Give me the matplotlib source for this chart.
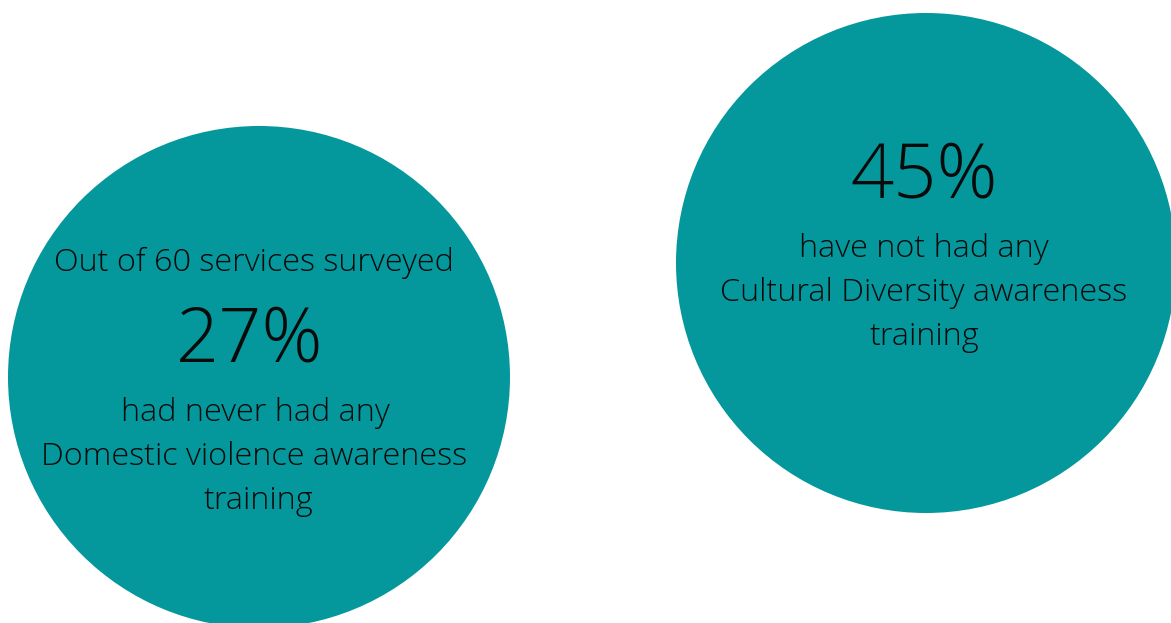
import matplotlib
matplotlib.use("Agg")
import matplotlib.pyplot as plt
from matplotlib.patches import Circle

# Data
percentages = ["27%", "45%"]
intro_lines = ["Out of 60 services surveyed", None]
caption_lines = [
    ["had never had any", "Domestic violence awareness", "training"],
    ["have not had any", "Cultural Diversity awareness", "training"],
]

# Layout (pixel coordinates, y downward)
W, H = 1171, 623
centers = [(259, 377), (926, 263)]
radii = [251, 250]
intro_x = [254, None]
pct_x = [250, 924]
caption_x = [[255, 254, 259], [924, 924, 925]]
intro_base = [271, None]
pct_base = [361, 198]
caption_base = [[421, 465, 509], [257, 301, 345]]

teal = "#04979C"
font = dict(family="Open Sans", weight="light", color="#0a0a0a")

fig = plt.figure(figsize=(W / 100, H / 100), dpi=100)
ax = fig.add_axes([0, 0, 1, 1])
ax.set_xlim(0, W)
ax.set_ylim(H, 0)
ax.set_aspect("equal")
ax.axis("off")

for i in range(2):
    ax.add_patch(Circle(centers[i], radii[i], color=teal, lw=0))
    if intro_lines[i]:
        ax.text(intro_x[i], intro_base[i], intro_lines[i], ha="center", va="baseline",
                fontsize=23.3, **font)
    ax.text(pct_x[i], pct_base[i], percentages[i], ha="center", va="baseline",
            fontsize=54.5, **font)
    for line, xc, yb in zip(caption_lines[i], caption_x[i], caption_base[i]):
        ax.text(xc, yb, line, ha="center", va="baseline", fontsize=23.3, **font)

fig.savefig("out.png", dpi=100, facecolor="white")
